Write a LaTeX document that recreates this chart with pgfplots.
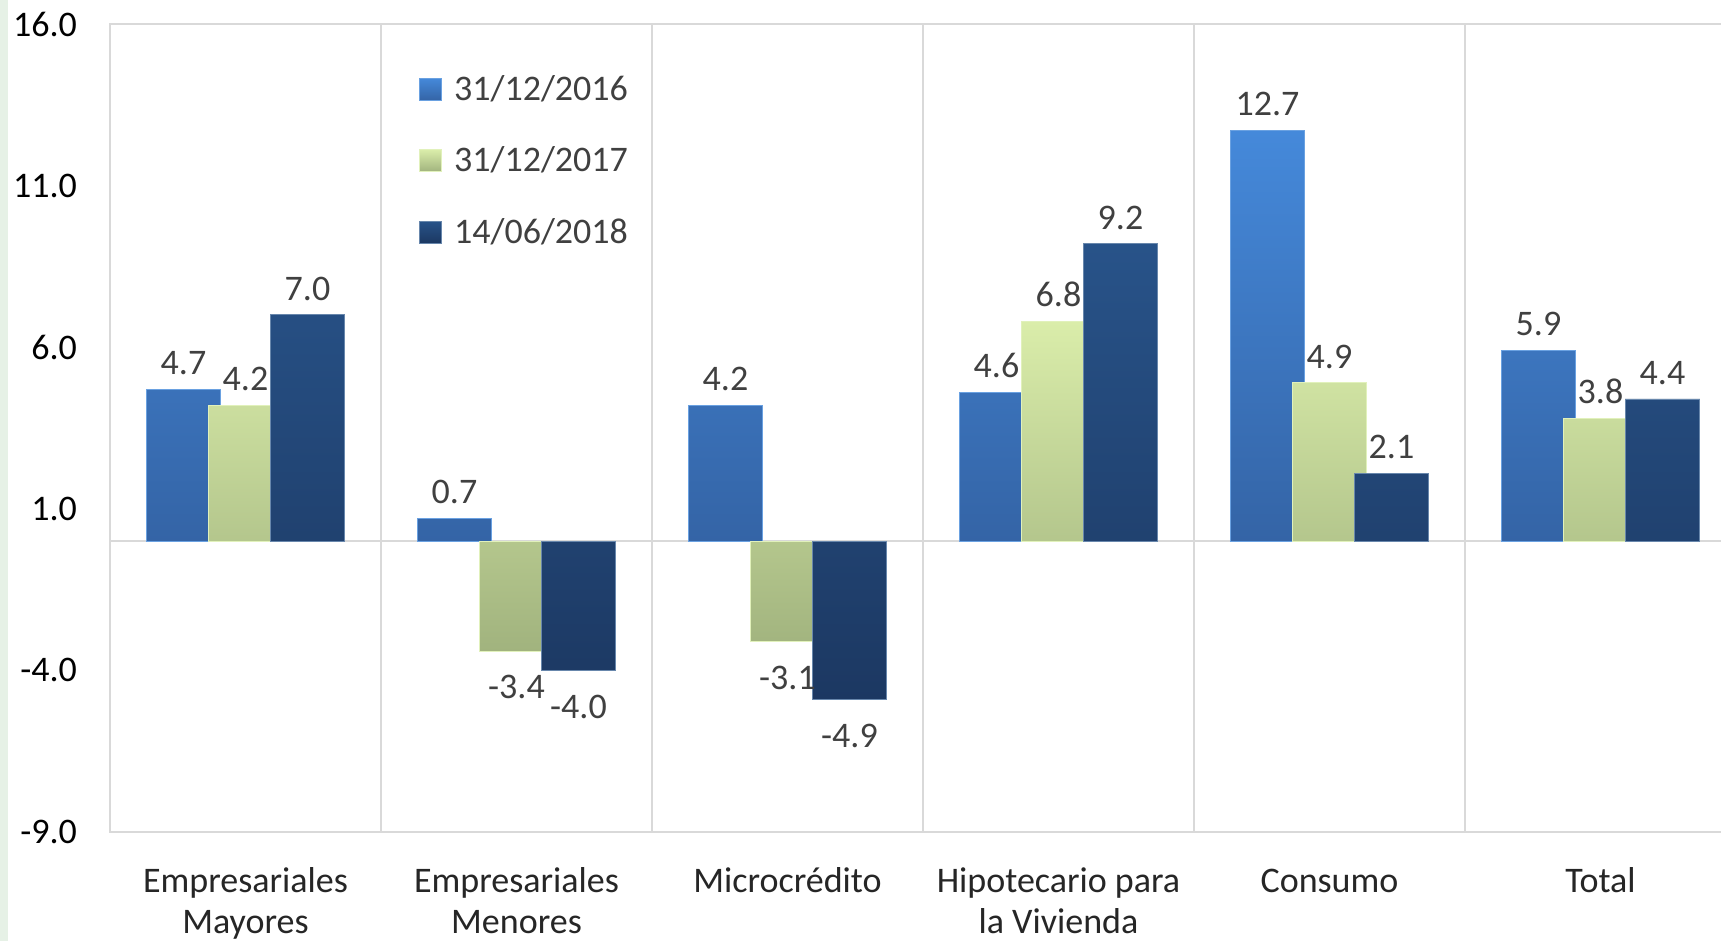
\documentclass[border=0pt]{standalone}
\usepackage{pgfplots}
\pgfplotsset{compat=1.18}
\usepackage{fontspec}
\setmainfont{Carlito}
\definecolor{bAt}{HTML}{4589DA}
\definecolor{bAb}{HTML}{3464A6}
\definecolor{bBt}{HTML}{DAEDAA}
\definecolor{bBb}{HTML}{A1B37E}
\definecolor{bCt}{HTML}{285389}
\definecolor{bCb}{HTML}{1C3862}
\definecolor{gridc}{HTML}{D9D9D9}
\definecolor{lab}{HTML}{404040}
\definecolor{strip}{HTML}{E6F1E6}
\begin{document}
\begin{tikzpicture}
\path[use as bounding box] (0,0) rectangle (860.5pt,470.5pt);
\clip (0,0) rectangle (860.5pt,470.5pt);
\fill[white] (0,0) rectangle (860.5pt,470.5pt);
\fill[strip] (0,0) rectangle (4pt,470.5pt);
\begin{axis}[
  at={(55pt,54.5pt)}, anchor=south west,
  scale only axis, width=813pt, height=404pt,
  xmin=-0.5, xmax=5.5, ymin=-9, ymax=16,
  font=\fontsize{18}{20.5}\selectfont,
  axis line style={draw=gridc, line width=1pt},
  major tick length=0pt, minor tick length=0pt,
  ybar=-6.3pt, bar width=37.3pt,
  xtick={0,1,2,3,4,5},
  xticklabels={{Empresariales\\Mayores},{Empresariales\\Menores},{Microcrédito},{Hipotecario para\\la Vivienda},{\vphantom{l}Consumo},{Total}},
  xticklabel style={align=center, text=black!85, yshift=-14.1pt},
  minor xtick={0.5,1.5,2.5,3.5,4.5},
  xminorgrids,
  minor grid style={draw=gridc, line width=1pt},
  ytick={-9,-4,1,6,11,16},
  yticklabels={-9.0,-4.0,1.0,6.0,11.0,16.0},
  yticklabel style={text=black, xshift=-13pt},
  extra y ticks={0},
  extra y tick labels={},
  extra y tick style={grid=major, major grid style={draw=gridc, line width=1pt}},
  nodes near coords={\pgfmathprintnumber[fixed,fixed zerofill,precision=1,assume math mode=true]{\pgfplotspointmeta}},
  visualization depends on={rawy \as \rawy},
  every node near coord/.append style={text=lab, inner sep=7pt, font=\fontsize{18}{21}\selectfont, yshift={(\rawy<0)*(-5pt)}},
  legend style={at={(0.19,0.942)}, anchor=north west, draw=none, fill=none, font=\fontsize{18}{21}\selectfont, text=lab, row sep=17.7pt, column sep=4pt, inner sep=0pt, cells={anchor=west}},
  legend image code/.code={\draw[#1] (0pt,-5.5pt) rectangle (11pt,5.5pt);},
]
\addplot[top color=bAt, bottom color=bAb, draw=bAt!80!white, line width=0.4pt]
  coordinates {(0,4.7) (1,0.7) (2,4.2) (3,4.6) (4,12.7) (5,5.9)};
\addplot[top color=bBt, bottom color=bBb, draw=bBt!80!white, line width=0.4pt]
  coordinates {(0,4.2) (1,-3.4) (2,-3.1) (3,6.8) (4,4.9) (5,3.8)};
\addplot[top color=bCt, bottom color=bCb, draw=bCt!70!white, line width=0.4pt]
  coordinates {(0,7.0) (1,-4.0) (2,-4.9) (3,9.2) (4,2.1) (5,4.4)};
\legend{31/12/2016,31/12/2017,14/06/2018}
\end{axis}
\end{tikzpicture}
\end{document}
